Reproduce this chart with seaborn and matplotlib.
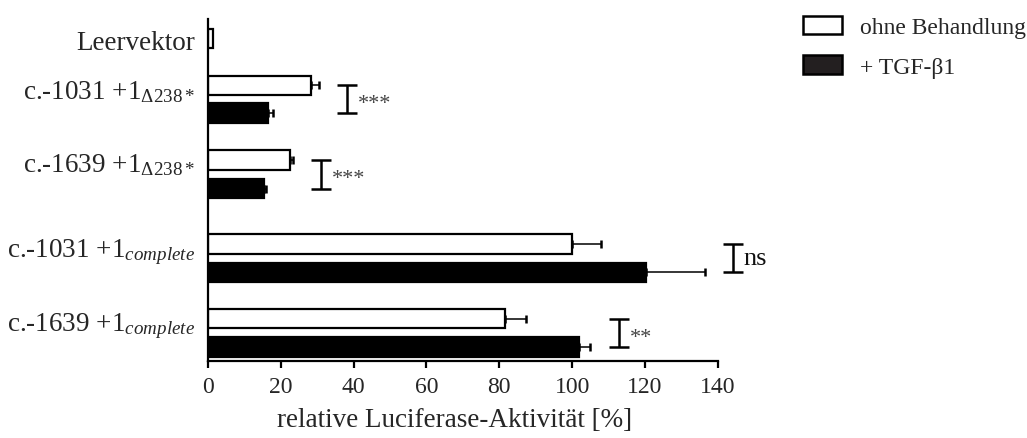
import numpy as np
import matplotlib
matplotlib.use("Agg")
import matplotlib.pyplot as plt
from matplotlib.patches import Patch
from matplotlib.transforms import offset_copy
import seaborn as sns

# ---- data ---------------------------------------------------------------
constructs = [
    "Leervektor",
    r"c.-1031 +1$_{\mathrm{Δ238*}}$",
    r"c.-1639 +1$_{\mathrm{Δ238*}}$",
    r"c.-1031 +1$_{\mathit{complete}}$",
    r"c.-1639 +1$_{\mathit{complete}}$",
]
untreated = [1.5, 28.3, 22.6, 99.9, 81.7]          # ohne Behandlung
untreated_err = [0.0, 2.1, 0.7, 7.9, 5.6]
tgf = [16.6, 15.5, 120.3, 102.0]                    # + TGF-beta1 (no empty vector)
tgf_err = [1.3, 0.6, 16.0, 3.0]
significance = ["***", "***", "ns", "**"]
x_ticks = [0, 20, 40, 60, 80, 100, 120, 140]
legend_labels = ["ohne Behandlung", "+ TGF-β1"]

# ---- layout (vertical axis runs 20 .. 362, top to bottom) ----------------
white_rows = np.array([39.5, 86.3, 160.8, 245.0, 319.7])
black_rows = np.array([114.0, 189.5, 273.3, 348.0])
BAR_H = 19.5
label_rows = np.array([40.5, 89.0, 162.5, 247.0, 321.5])

sns.set_style("ticks")
plt.rcParams["font.family"] = ["Liberation Serif", "DejaVu Serif"]
plt.rcParams["mathtext.fontset"] = "custom"
plt.rcParams["mathtext.rm"] = "Liberation Serif"
plt.rcParams["mathtext.it"] = "Liberation Serif:italic"

W, H = 1027, 439
fig = plt.figure(figsize=(W / 100, H / 100), dpi=100)
ax = fig.add_axes([207.7 / W, (H - 362) / H, (718 - 207.7) / W, (362 - 20) / H])

EDGE = 1.6

def native_width(rows):
    return BAR_H / np.diff(np.sort(rows)).min()

sns.barplot(x=untreated, y=white_rows, orient="y", native_scale=True,
            width=native_width(white_rows), color="white", saturation=1,
            edgecolor="black", linewidth=EDGE, errorbar=None, ax=ax)
sns.barplot(x=tgf, y=black_rows, orient="y", native_scale=True,
            width=native_width(black_rows), color="black", saturation=1,
            edgecolor="black", linewidth=EDGE, errorbar=None, ax=ax)

# one-sided error bars
u = np.array(untreated); ue = np.array(untreated_err)
m = ue > 0
ax.errorbar(u[m], white_rows[m], xerr=[np.zeros(m.sum()), ue[m]], fmt="none",
            ecolor="black", elinewidth=1.1, capsize=3.2, capthick=1.8, zorder=3,
            clip_on=False)
t = np.array(tgf); te = np.array(tgf_err)
ax.errorbar(t, black_rows, xerr=[np.zeros_like(te), te], fmt="none",
            ecolor="black", elinewidth=1.1, capsize=3.2, capthick=1.8, zorder=3,
            clip_on=False)

# significance brackets between the paired bars
for i, mark in enumerate(significance):
    y0, y1 = white_rows[i + 1], black_rows[i]
    xb = max(u[i + 1] + ue[i + 1], t[i] + te[i]) + 7.8
    half = 2.7
    kw = dict(color="black", lw=1.8, clip_on=False, solid_capstyle="butt")
    ax.plot([xb, xb], [y0, y1], **kw)
    ax.plot([xb - half, xb + half], [y0, y0], **kw)
    ax.plot([xb - half, xb + half], [y1, y1], **kw)
    if mark == "ns":
        ax.text(xb + half + 0.3, (y0 + y1) / 2, mark, fontsize=19,
                va="center", ha="left", color="#111111", clip_on=False)
    else:
        tr = offset_copy(ax.transData, fig=fig, x=0, y=-3, units="points")
        ax.text(xb + half + 0.3, (y0 + y1) / 2, mark, fontsize=16,
                va="center", ha="left", color="#444444", transform=tr,
                clip_on=False)

ax.set_xlim(0, 140)
ax.set_ylim(362, 20)
ax.set_xticks(x_ticks)
ax.set_xticklabels([str(v) for v in x_ticks], fontsize=17)
ax.set_yticks(label_rows)
ax.set_yticklabels(constructs, fontsize=19.5)
ax.tick_params(axis="y", length=0, pad=9)
ax.tick_params(axis="x", length=5, width=1.6, pad=6, color="black")
ax.set_xlabel("relative Luciferase-Aktivität [%]", fontsize=19.5)
ax.xaxis.set_label_coords(0.483, -0.17)
ax.xaxis.label.set_va("center")
ax.set_ylabel("")
sns.despine(ax=ax)
for s in ("left", "bottom"):
    ax.spines[s].set_linewidth(1.6)
    ax.spines[s].set_color("black")
ax.set_facecolor("white")

handles = [Patch(facecolor="white", edgecolor="black", linewidth=1.8),
           Patch(facecolor="#231f20", edgecolor="black", linewidth=1.8)]
fig.legend(handles, legend_labels, loc="upper left",
           bbox_to_anchor=(803 / W, 1 - 17 / H), frameon=False, fontsize=17,
           handlelength=1.65, handleheight=0.82, handletextpad=0.75,
           labelspacing=0.72, borderpad=0, borderaxespad=0)

fig.savefig("out.png", dpi=100, facecolor="white")
